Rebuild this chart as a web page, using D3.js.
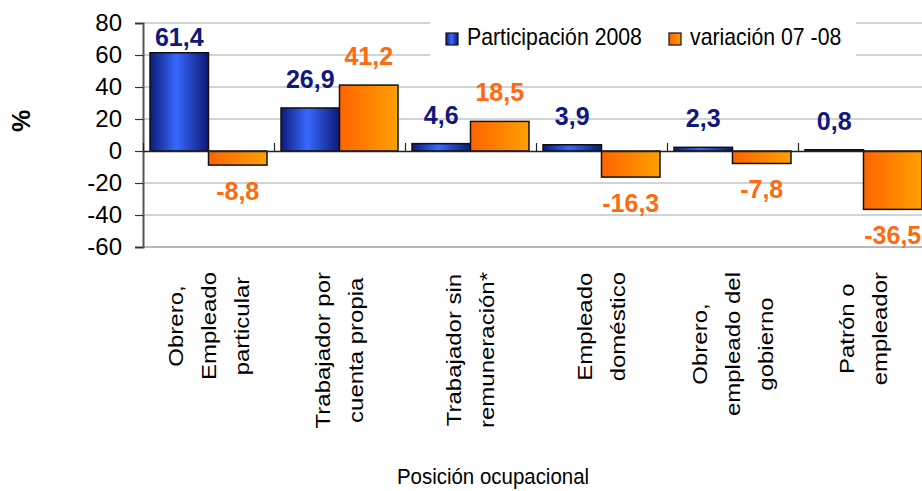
<!DOCTYPE html>
<html>
<head>
<meta charset="utf-8">
<script src="https://cdn.jsdelivr.net/npm/d3@7"></script>
<style>
  body { margin: 0; background: #fff; }
  text { font-family: Arial, "Liberation Sans", sans-serif; }
</style>
</head>
<body>
<svg id="chart" width="922" height="491"></svg>
<script>
// data
const categorias = [
    ["Obrero,", "Empleado", "particular"],
    ["Trabajador por", "cuenta propia"],
    ["Trabajador sin", "remuneración*"],
    ["Empleado", "doméstico"],
    ["Obrero,", "empleado del", "gobierno"],
    ["Patrón o", "empleador"]
];
const participacion = [61.4, 26.9, 4.6, 3.9, 2.3, 0.8];
const variacion = [-8.8, 41.2, 18.5, -16.3, -7.8, -36.5];
const seriesNames = ["Participación 2008", "variación 07 -08"];
const yTicks = [-60, -40, -20, 0, 20, 40, 60, 80];

const svg = d3.select('#chart');
const W = 922;
const plot = {left: 143, top: 23, right: 929, bottom: 247};

const y = d3.scaleLinear().domain([-60, 80]).range([plot.bottom, plot.top]);
const x0 = d3.scaleBand().domain(d3.range(categorias.length))
    .range([plot.left, plot.right]).paddingInner(0.107).paddingOuter(0.0535);
const x1 = d3.scaleBand().domain([0, 1]).range([0, x0.bandwidth()]);
const xb = d3.scaleLinear().domain([0, categorias.length]).range([plot.left, plot.right]);

//gradients
const defs = svg.append('defs');
const gBlue = defs.append('linearGradient').attr('id', 'gBlue');
[[0, '#0b1c78'], [0.45, '#3868ff'], [1, '#0b1a74']].forEach(s =>
    gBlue.append('stop').attr('offset', s[0]).attr('stop-color', s[1]));
const gOrange = defs.append('linearGradient').attr('id', 'gOrange');
[[0, '#ff6400'], [1, '#ffa000']].forEach(s =>
    gOrange.append('stop').attr('offset', s[0]).attr('stop-color', s[1]));
const fills = ['url(#gBlue)', 'url(#gOrange)'];
const labelColors = ['#10187e', '#ff6a10'];

//gridlines
svg.append('g').selectAll('line')
    .data(yTicks.filter(d => d !== 0))
    .enter().append('line')
    .attr('x1', plot.left).attr('x2', W)
    .attr('y1', d => y(d)).attr('y2', d => y(d))
    .attr('stroke', d => d === -60 ? '#a0a0a0' : '#c4c4c4')
    .attr('stroke-width', 1.5);

//legend box (covers gridlines)
const legend = svg.append('g');
legend.append('rect').attr('x', 430).attr('y', 17).attr('width', 426).attr('height', 42).attr('fill', '#fff');
[{x: 446, tx: 467}, {x: 669, tx: 690}].forEach((p, i) => {
    legend.append('rect').attr('x', p.x).attr('y', 33).attr('width', 12).attr('height', 12)
        .attr('fill', fills[i]).attr('stroke', '#111').attr('stroke-width', 1.2);
    legend.append('text').attr('transform', `translate(${p.tx},45) scale(0.925,1)`)
        .attr('font-size', 23).attr('fill', '#000').text(seriesNames[i]);
});

//bars
const rows = categorias.map((c, i) => [participacion[i], variacion[i]]);
const groups = svg.append('g').selectAll('g')
    .data(rows).enter().append('g')
    .attr('transform', (d, i) => `translate(${x0(i)},0)`);

groups.selectAll('rect')
    .data(d => d).enter().append('rect')
    .attr('x', (d, j) => x1(j))
    .attr('width', x1.bandwidth())
    .attr('y', d => y(Math.max(0, d)))
    .attr('height', d => Math.abs(y(d) - y(0)))
    .attr('fill', (d, j) => fills[j])
    .attr('stroke', '#111')
    .attr('stroke-width', 1.5);

groups.selectAll('text')
    .data(d => d).enter().append('text')
    .attr('x', (d, j) => x1(j) + x1.bandwidth() / 2)
    .attr('y', d => d >= 0 ? Math.max(y(d) - 20, plot.top + 23) : y(d) + 35)
    .attr('text-anchor', 'middle')
    .attr('font-size', 25)
    .attr('font-weight', 'bold')
    .attr('fill', (d, j) => labelColors[j])
    .text(d => d.toFixed(1).replace('.', ','));

//y axis
const yAxis = svg.append('g')
    .attr('transform', `translate(${plot.left},0)`)
    .call(d3.axisLeft(y).tickValues(yTicks).tickSize(8).tickPadding(13).tickFormat(d => String(d)));
yAxis.select('.domain').attr('stroke', '#555').attr('stroke-width', 2);
yAxis.selectAll('.tick line').attr('stroke', '#333').attr('stroke-width', 1.2);
yAxis.selectAll('.tick text').attr('font-size', 24).attr('fill', '#000').attr('font-family', 'Arial, "Liberation Sans", sans-serif');

//zero axis with group ticks
const xAxis = svg.append('g')
    .attr('transform', `translate(0,${y(0)})`)
    .call(d3.axisBottom(xb).tickValues(d3.range(categorias.length + 1)).tickSizeInner(-8).tickSizeOuter(0).tickFormat(''));
xAxis.select('.domain').attr('stroke', '#222').attr('stroke-width', 1.5);
xAxis.selectAll('.tick line').attr('stroke', '#222').attr('stroke-width', 1.2);

//category labels
const lineStep = 33 / 0.88;
categorias.forEach((lines, i) => {
    const cx = xb(i + 0.5);
    const t = svg.append('text')
        .attr('transform', `translate(${cx},272) scale(0.88,1) rotate(-90)`)
        .attr('font-size', 24)
        .attr('fill', '#000')
        .attr('text-anchor', 'middle');
    const spans = lines.map((l, k) => t.append('tspan')
        .attr('y', (k - (lines.length - 1) / 2) * lineStep + 8.5)
        .text(l));
    const maxW = d3.max(spans, s => s.node().getComputedTextLength());
    spans.forEach(s => s.attr('x', -maxW / 2));
});

//axis titles
svg.append('text')
    .attr('transform', 'translate(493,484) scale(0.93,1)')
    .attr('text-anchor', 'middle')
    .attr('font-size', 22)
    .text('Posición ocupacional');

svg.append('text')
    .attr('transform', 'translate(21,121) rotate(-90)')
    .attr('text-anchor', 'middle')
    .attr('dominant-baseline', 'central')
    .attr('font-size', 25)
    .attr('font-weight', 'bold')
    .text('%');
</script>
</body>
</html>
